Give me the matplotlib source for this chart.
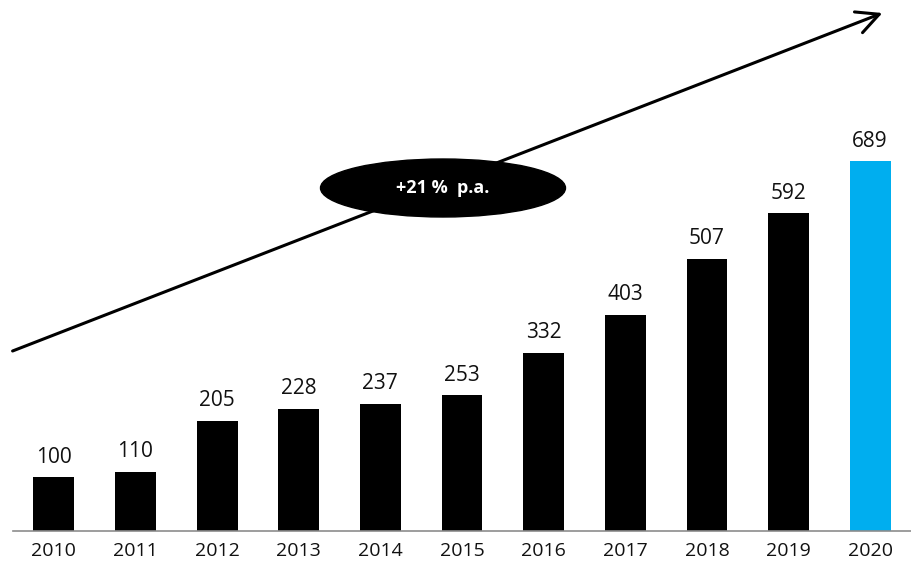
import matplotlib.pyplot as plt
from matplotlib.patches import Ellipse, FancyArrowPatch

years = ['2010', '2011', '2012', '2013', '2014', '2015', '2016', '2017', '2018', '2019', '2020']
values = [100, 110, 205, 228, 237, 253, 332, 403, 507, 592, 689]
colors = ['black'] * 10 + ['#00AEEF']

plt.rcParams['font.family'] = ['Open Sans', 'DejaVu Sans']

fig = plt.figure(figsize=(9.11, 5.69), dpi=100)
ax = fig.add_axes([13 / 911, 38 / 569, 898 / 911, 531 / 569])

x = range(len(years))
ax.bar(x, values, width=0.5, color=colors, zorder=2)
for i, v in zip(x, values):
    ax.annotate(str(v), (i, v), xytext=(0, 7), textcoords='offset points',
                ha='center', va='bottom', fontsize=15, color='#111111')

ax.set_xlim(-0.5, 10.5)
ax.set_ylim(0, 990)
ax.set_xticks(list(x))
ax.set_xticklabels(years, fontsize=14, color='#111111')
ax.tick_params(axis='x', length=0, pad=8)
ax.set_yticks([])
for s in ['top', 'right', 'left']:
    ax.spines[s].set_visible(False)
ax.spines['bottom'].set_color('#8c8c8c')
ax.spines['bottom'].set_linewidth(1.2)

# growth arrow + ellipse (figure coords)
fig.patches.append(FancyArrowPatch(
    (10 / 911, 1 - 352 / 569), (885 / 911, 1 - 12 / 569),
    transform=fig.transFigure, arrowstyle='->,head_length=10,head_width=5',
    mutation_scale=1.6, color='black', lw=2.2, zorder=5))
fig.patches.append(Ellipse((443 / 911, 1 - 188 / 569), 245 / 911, 58 / 569,
                           transform=fig.transFigure, color='black', zorder=6))
fig.text(443 / 911, 1 - 188 / 569, '+21 %  p.a.', ha='center', va='center',
         color='white', fontsize=13, fontweight='bold', zorder=7)

fig.savefig('out.png', dpi=100)
